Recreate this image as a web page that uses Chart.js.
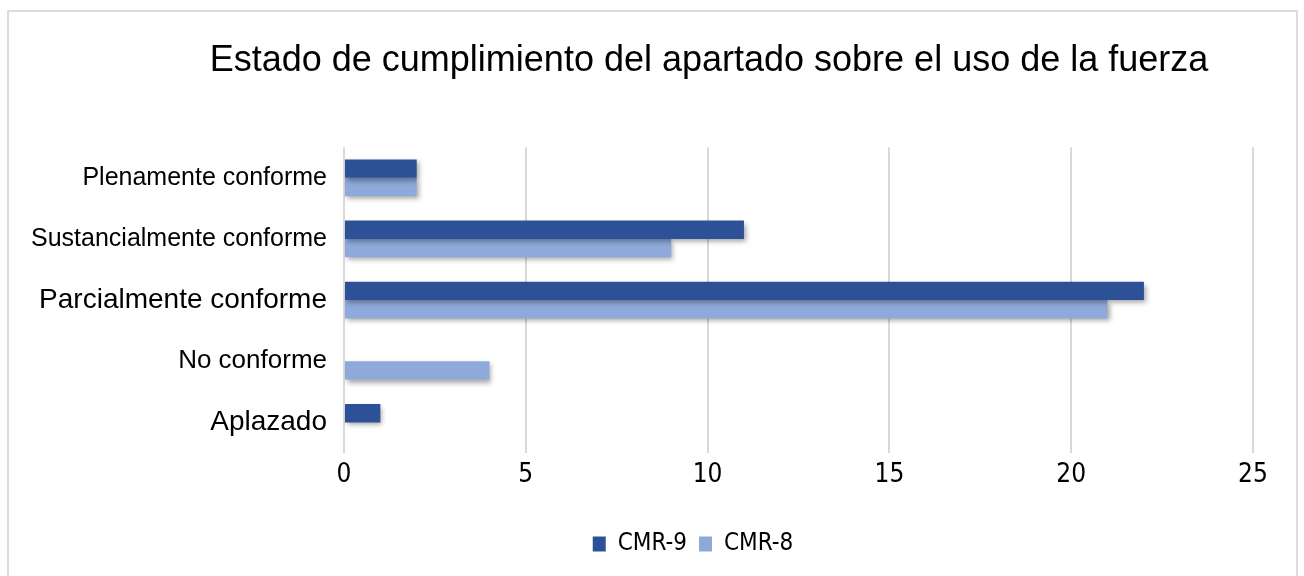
<!DOCTYPE html>
<html>
<head>
<meta charset="utf-8">
<script src="https://cdn.jsdelivr.net/npm/chart.js@4/dist/chart.umd.min.js"></script>
<style>
  body { margin: 0; background: #fff; }
  #wrap { position: relative; width: 1304px; height: 576px; }
  #frame { position: absolute; left: 7px; top: 10px; width: 1291px; height: 600px; border: 2px solid #dcdcdc; box-sizing: border-box; }
  canvas { position: absolute; left: 0; top: 0; }
</style>
</head>
<body>
<div id="wrap">
  <div id="frame"></div>
  <canvas id="grafik" width="1304" height="576"></canvas>
</div>
<script>
// data kategori dan seri
const kategori = ["Plenamente conforme", "Sustancialmente conforme", "Parcialmente conforme", "No conforme", "Aplazado"];
const cmr9 = [2, 11, 22, 0, 1];
const cmr8 = [2, 9, 21, 4, 0];
const ukuranLabel = [25, 25, 28, 26, 28];

// bayangan tipis di bawah batang
const bayangan = {
    id: "bayangan",
    beforeDatasetsDraw(chart) {
        const ctx = chart.ctx;
        ctx.save();
        ctx.shadowColor = "rgba(0,0,0,0.35)";
        ctx.shadowBlur = 5;
        ctx.shadowOffsetX = 2;
        ctx.shadowOffsetY = 3;
    },
    afterDatasetsDraw(chart) {
        chart.ctx.restore();
    }
};

// geser judul & legenda supaya tengahnya seperti di gambar asli
const geser = {
    id: "geser",
    afterUpdate(chart) {
        const t = chart.titleBlock;
        t.left = 165; t.right = 1253; t.width = t.right - t.left;
        const lg = chart.legend;
        lg.left = 133; lg.right = 1253; lg.width = lg.right - lg.left;
        lg.adjustHitBoxes();
    }
};

new Chart(document.getElementById("grafik"), {
    type: "bar",
    data: {
        labels: kategori,
        datasets: [
            { label: "CMR-9", data: cmr9, backgroundColor: "#2c5197" },
            { label: "CMR-8", data: cmr8, backgroundColor: "#8eaadb" }
        ]
    },
    options: {
        indexAxis: "y",
        responsive: false,
        animation: false,
        categoryPercentage: 0.6,
        barPercentage: 1,
        layout: { padding: { left: 0, right: 51, top: 0, bottom: 10 } },
        scales: {
            x: {
                min: 0,
                max: 25,
                ticks: {
                    stepSize: 5,
                    color: "#000",
                    padding: 7,
                    font: { family: "'Liberation Sans Narrow', 'DejaVu Sans Condensed', sans-serif", size: 26 }
                },
                grid: { color: "#d9d9d9", lineWidth: 2, drawTicks: false },
                border: { display: false },
                afterFit(scale) { scale.height = 67; }
            },
            y: {
                ticks: {
                    color: "#000",
                    padding: 9,
                    font: (c) => ({ family: "'Liberation Sans', Arial, sans-serif", size: ukuranLabel[c.index] || 25 })
                },
                grid: { display: false },
                border: { display: false },
                afterFit(scale) { scale.width = 344; }
            }
        },
        plugins: {
            title: {
                display: true,
                text: "Estado de cumplimiento del apartado sobre el uso de la fuerza",
                color: "#000",
                font: { family: "'Liberation Sans', Arial, sans-serif", size: 36, weight: "normal" },
                padding: { top: 39, bottom: 65 }
            },
            legend: {
                position: "bottom",
                labels: {
                    boxWidth: 13,
                    boxHeight: 15,
                    padding: 12,
                    color: "#000",
                    font: { family: "'Liberation Sans Narrow', 'DejaVu Sans Condensed', sans-serif", size: 24 }
                }
            },
            tooltip: { enabled: false }
        }
    },
    plugins: [bayangan, geser]
});
</script>
</body>
</html>
